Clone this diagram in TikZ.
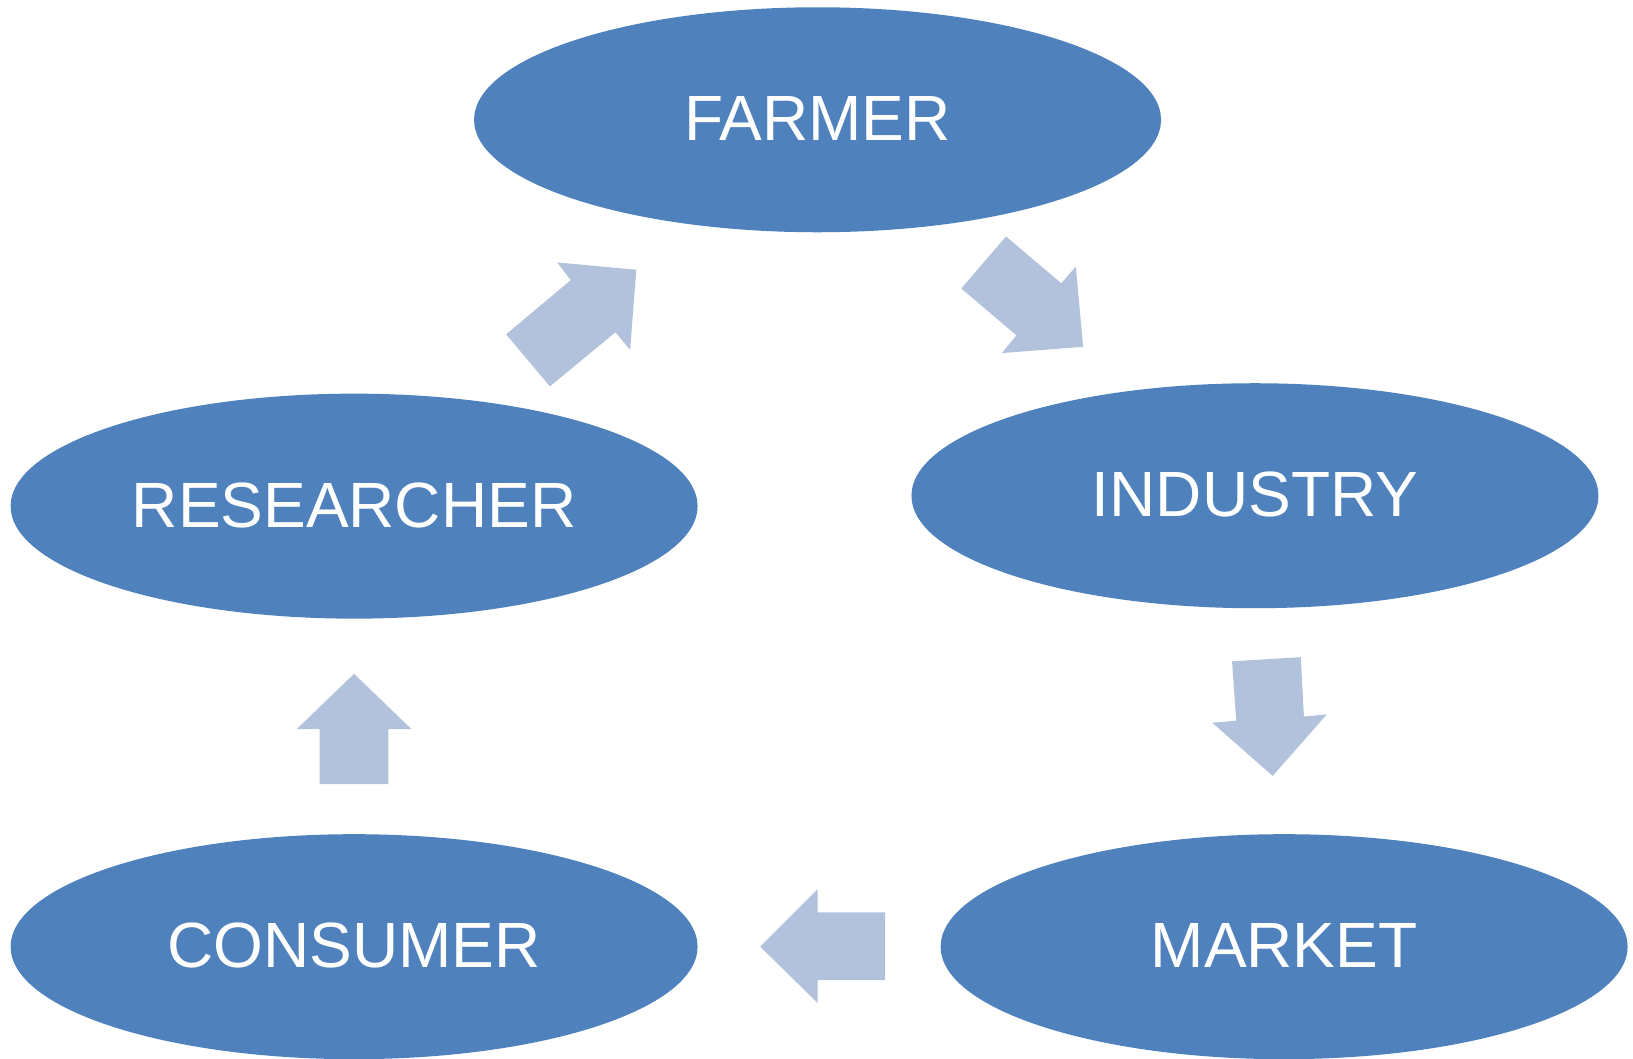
\documentclass[tikz,border=0pt]{standalone}
\usepackage{fontspec}
\setmainfont{Liberation Sans}
\usetikzlibrary{shapes.geometric}
\definecolor{ellblue}{HTML}{4F81BD}
\definecolor{arrblue}{HTML}{B2C2DC}
\newcommand{\elltext}[1]{\raisebox{2.5pt}{#1}}
\tikzset{
  ell/.style={ellipse, fill=ellblue, draw=none, minimum width=687pt, minimum height=225pt, inner sep=0pt, text=white, font=\fontsize{64}{76}\selectfont},
  blockarrow/.style={fill=arrblue, draw=none}
}
\begin{document}
\begin{tikzpicture}[x=1.0415pt, y=-1.0415pt]
\useasboundingbox (0,0) rectangle (1568,1016);
\node[ell] (farmer) at (785,115) {\elltext{FARMER}};
\node[ell] (researcher) at (340,486) {\elltext{RESEARCHER}};
\node[ell] (industry) at (1205,476) {\elltext{INDUSTRY}};
\node[ell] (consumer) at (340,909) {\elltext{CONSUMER}};
\node[ell] (market) at (1233,909) {\elltext{MARKET}};
% researcher -> farmer
\fill[blockarrow] (486,321) -- (548,269) -- (535,252) -- (611,259) -- (605,336) -- (591,319) -- (528,371) -- cycle;
% farmer -> industry
\fill[blockarrow] (923,277) -- (966,227) -- (1019,272) -- (1033,256) -- (1040,333) -- (962,339) -- (976,322) -- cycle;
% industry -> market
\fill[blockarrow] (1183,635) -- (1249,631) -- (1252,688) -- (1274,686) -- (1222,745) -- (1164,694) -- (1187,692) -- cycle;
% market -> consumer
\fill[blockarrow] (850,876) -- (850,941) -- (785,941) -- (785,963) -- (730,909) -- (785,854) -- (785,876) -- cycle;
% consumer -> researcher
\fill[blockarrow] (307,753) -- (373,753) -- (373,700) -- (395,700) -- (340,647) -- (285,700) -- (307,700) -- cycle;
\end{tikzpicture}
\end{document}
